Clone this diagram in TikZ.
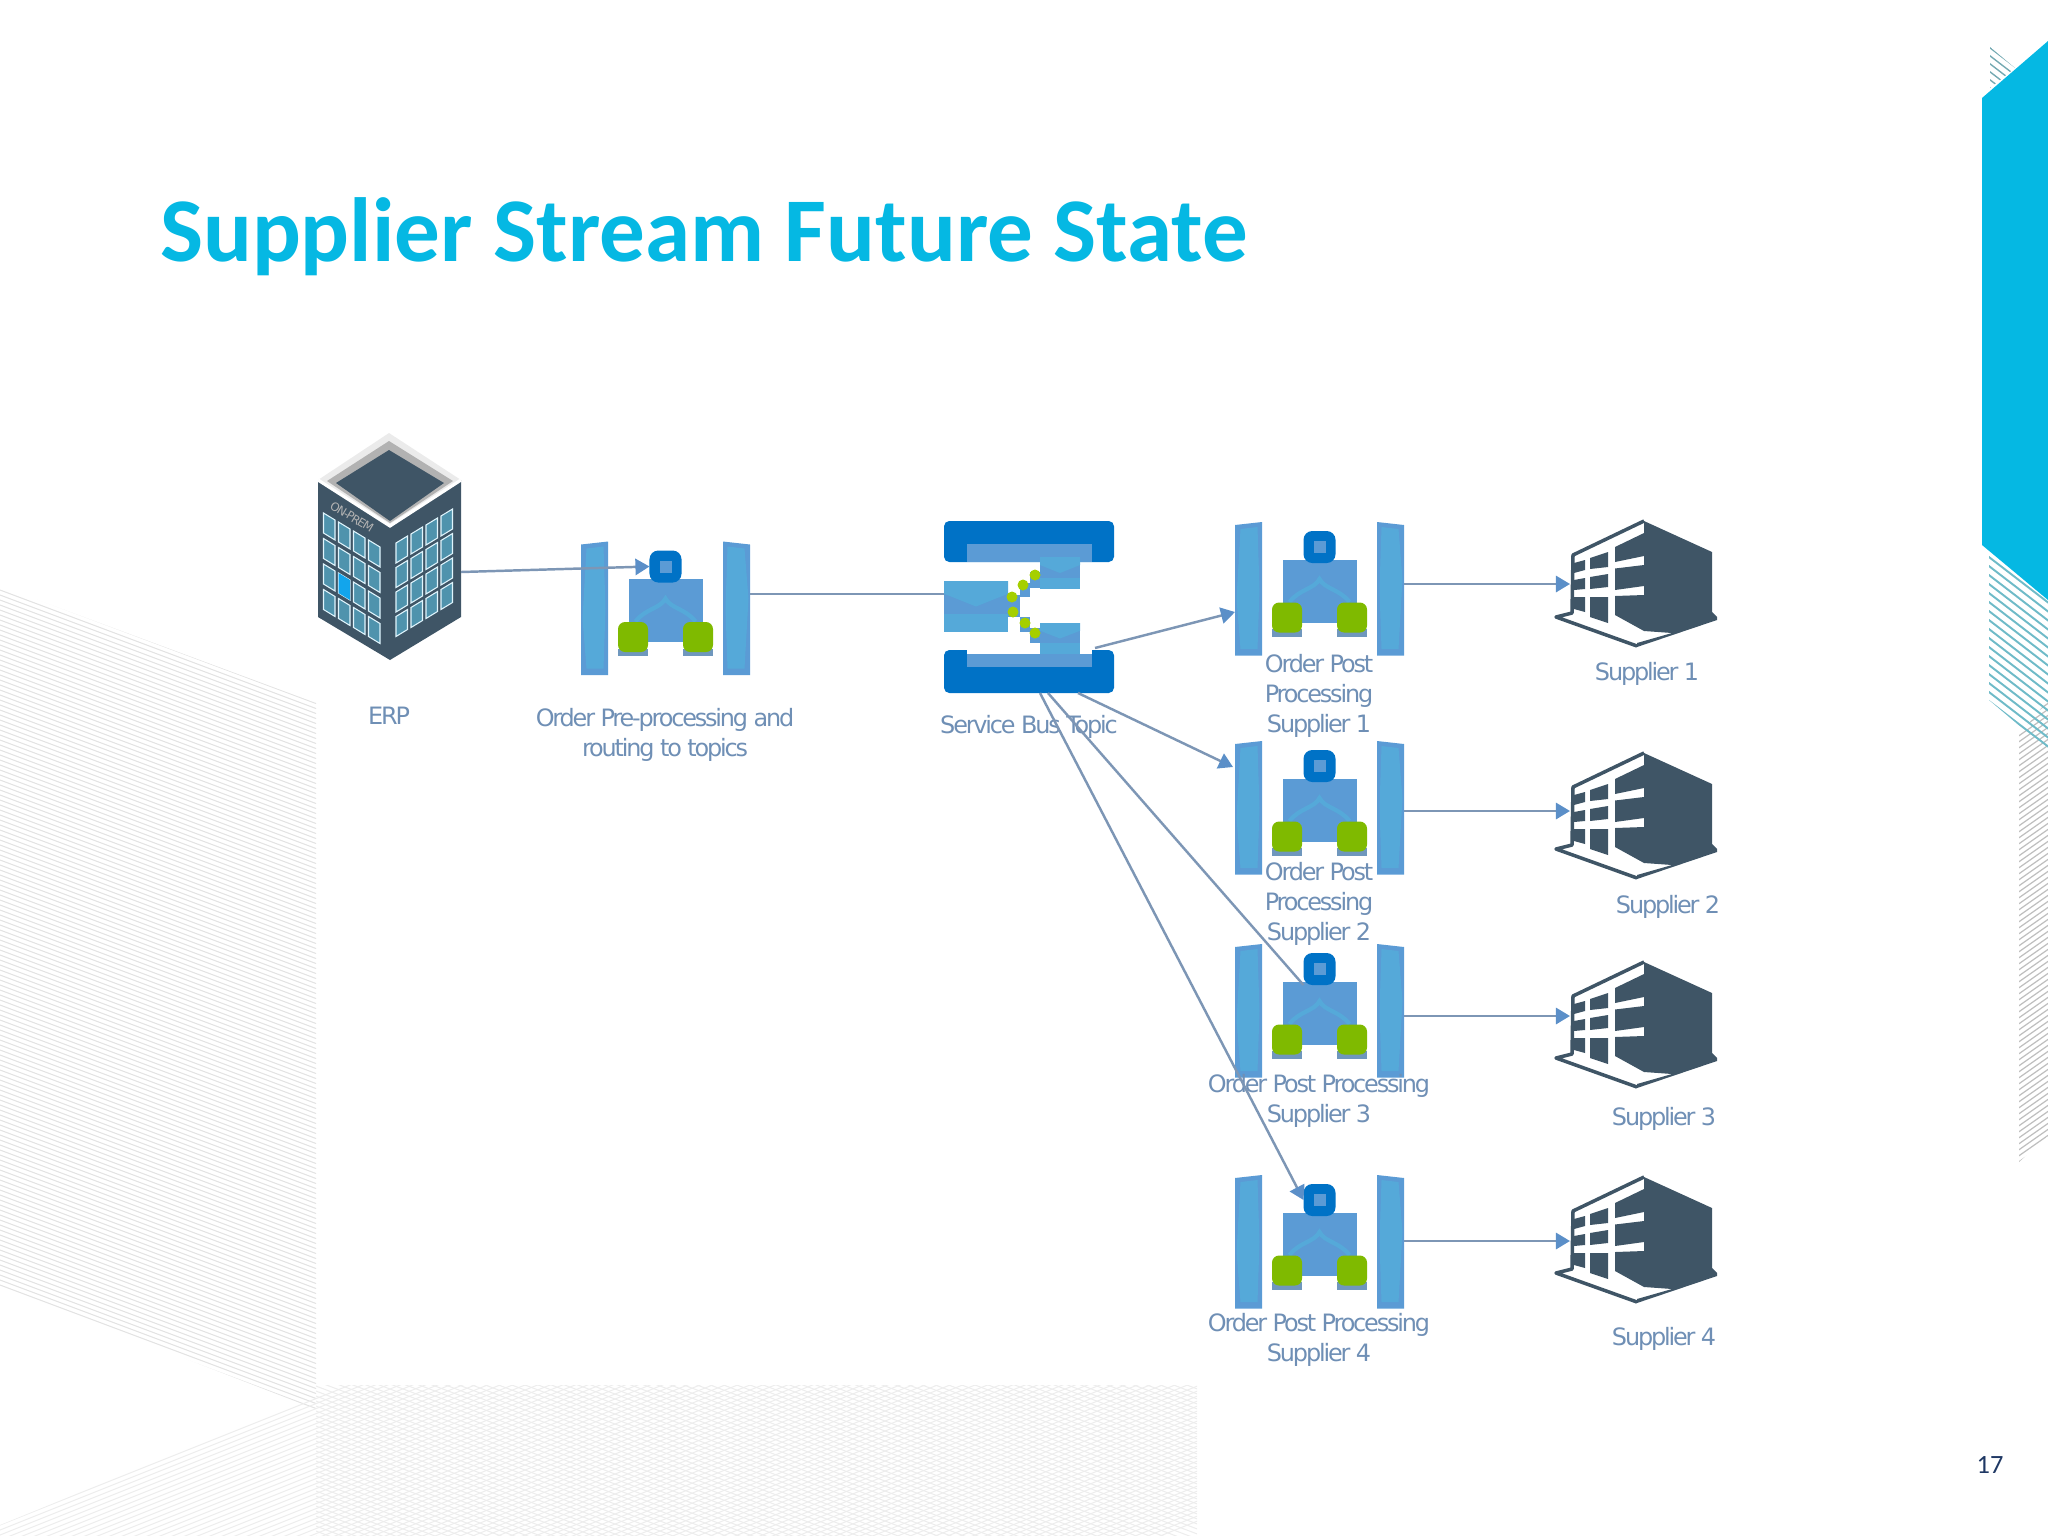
\documentclass[tikz,border=0pt]{standalone}
\usepackage{fontspec}
\setmainfont{Carlito}
\newfontfamily\labelfont[LetterSpace=-9]{DejaVu Sans}
\usetikzlibrary{arrows.meta}
\definecolor{brand}{HTML}{05B8E3}
\definecolor{slate}{HTML}{3F5566}
\definecolor{azure}{HTML}{0072C6}
\definecolor{midblue}{HTML}{5B9BD5}
\definecolor{paleblue}{HTML}{55A9D9}
\definecolor{leaf}{HTML}{7FBA00}
\definecolor{seam}{HTML}{6F97BD}
\definecolor{pane}{HTML}{4F93AD}
\definecolor{panelit}{HTML}{12A5EC}
\definecolor{inktext}{HTML}{6F8FB5}
\definecolor{flowline}{HTML}{7D96B5}
\definecolor{flowtip}{HTML}{5B8FC8}
\definecolor{tealhatch}{HTML}{6FBBC8}
\definecolor{navy}{HTML}{1F3864}
\begin{document}
\begin{tikzpicture}[
    x=0.01cm, y=-0.01cm,
    port/.style={inner sep=0pt, outer sep=0pt},
    hatchgrey/.style={draw=black!11, line width=0.3pt},
    hatchpale/.style={draw=black!7, line width=0.3pt},
    caption/.style={font=\labelfont\fontsize{6.8}{8.54}\selectfont, text=inktext, align=center},
    flow/.style={draw=flowline, line width=0.7pt, -{Triangle[length=4pt, width=4.6pt, color=flowtip]}},
    plainflow/.style={draw=flowline, line width=0.7pt},
    appicon/.pic={
        \fill[midblue] (-84.5,-64) -- (-57.5,-67) -- (-57.5,66.5) -- (-84.5,66.5) -- cycle;
        \fill[midblue] (57.5,-67) -- (84.5,-64) -- (84.5,66.5) -- (57.5,66.5) -- cycle;
        \fill[paleblue] (-79,-60) -- (-62,-62) -- (-60,0) -- (-62,60) -- (-79,60) -- (-83,10) -- cycle;
        \fill[paleblue] (62,-62) -- (79,-60) -- (83,-10) -- (79,60) -- (62,60) -- (60,0) -- cycle;
        \fill[midblue] (-37,-29.5) rectangle (37,33.5);
        \draw[paleblue, line width=1.2pt] (-30,13) .. controls (-20,0) and (-5,0) .. (0,-10) .. controls (5,0) and (20,0) .. (30,13);
        \fill[seam] (-47.5,40) rectangle (-17.5,47.5);
        \fill[seam] (17.5,40) rectangle (47.5,47.5);
        \fill[leaf, rounded corners=2pt] (-47.5,13.5) rectangle (-17.5,43.5);
        \fill[leaf, rounded corners=2pt] (17.5,13.5) rectangle (47.5,43.5);
        \node[port, fill=azure, rounded corners=2.5pt, minimum size=0.32cm] (-top) at (0,-42) {};
        \fill[midblue] (-6,-48) rectangle (6,-36);
        \node[port, minimum width=0.27cm, minimum height=1.33cm] (-left) at (-71,0) {};
        \node[port, minimum width=0.27cm, minimum height=1.33cm] (-right) at (71,0) {};
    },
    topicicon/.pic={
        \fill[azure, rounded corners=1.5pt] (-85,-86) rectangle (85,-45);
        \fill[midblue] (-62,-63) rectangle (63,-45);
        \fill[azure, rounded corners=1.5pt] (-85,43) rectangle (85,86);
        \fill[white] (-62,43) rectangle (63,47);
        \fill[midblue] (-62,47) rectangle (63,60);
        \fill[midblue] (-21,-12) rectangle (-9,10);
        \fill[midblue] (-9,-24) rectangle (1,-10);
        \fill[midblue] (1,-35) rectangle (11,-19);
        \fill[midblue] (-9,10) rectangle (1,25);
        \fill[midblue] (1,21) rectangle (11,36);
        \foreach \l/\t/\r/\b in {-85/-26/-21/25, 11/-50/51/-18, 11/16/51/47} {
            \fill[midblue] (\l,\t) rectangle (\r,\b);
            \fill[paleblue] (\l,\t) -- (\r,\t) -- (\r,{\t+(\b-\t)*0.25}) -- ({(\l+\r)/2},{\t+(\b-\t)*0.5}) -- (\l,{\t+(\b-\t)*0.25}) -- cycle;
            \fill[paleblue] (\l,{\t+(\b-\t)*0.65}) rectangle (\r,\b);
        }
        \foreach \u/\v in {-17/-10, -6/-22, 6/-32, -16/5, -4/16, 6/26}
            \fill[leaf!70!yellow] (\u,\v) circle (5.5);
        \node[port, minimum width=0.64cm, minimum height=0.51cm] (-env) at (-53,-0.5) {};
    },
    officeicon/.pic={
        \fill[black!8] (-1,-93) -- (-72,-46) -- (0,0) -- (71,-46) -- cycle;
        \fill[black!30] (-1,-85) -- (-63,-45) -- (0,-3) -- (63,-45) -- cycle;
        \fill[slate] (-1,-76) -- (-54,-43) -- (0,-5) -- (54,-43) -- cycle;
        \fill[slate] (-72,-46) -- (0,0) -- (71,-46) -- (71,91) -- (0,134) -- (-72,91) -- cycle;
        \draw[white, line width=0.9pt] (-72,-46) -- (0,0) -- (71,-46);
        \foreach \i in {0,...,3}
            \foreach \j in {0,...,3} {
                \pgfmathsetmacro{\xa}{-66.5+\i*15}
                \pgfmathsetmacro{\ya}{-13+\i*9+\j*25.5}
                \fill[draw=cyan!12, line width=0.3pt, fill=pane] (\xa,\ya) -- ({\xa+11.5},{\ya+7}) -- ({\xa+11.5},{\ya+27}) -- (\xa,{\ya+20}) -- cycle;
                \pgfmathsetmacro{\xb}{6+\i*15}
                \pgfmathsetmacro{\yb}{17-\i*9+\j*24.5}
                \fill[draw=cyan!12, line width=0.3pt, fill=pane] (\xb,\yb) -- ({\xb+11.5},{\yb-7}) -- ({\xb+11.5},{\yb+13}) -- (\xb,{\yb+20}) -- cycle;
            }
        \fill[panelit] (-51.5,47) -- (-40,54) -- (-40,74) -- (-51.5,67) -- cycle;
        \node[port, rotate=-31, text=black!30, font=\labelfont\fontsize{3.3}{4}\selectfont] (-tag) at (-38,-9) {ON-PREM};
        \node[port, minimum width=1.43cm, minimum height=1.8cm] (-body) at (-0.5,46) {};
    },
    storeicon/.pic={
        \fill[slate] (0,0) -- (68,31) -- (68,91) -- (73,96) -- (73,99) -- (-7,126) -- (-7,122) -- (28,112) -- (0,110) -- cycle;
        \draw[slate, line width=1pt, line join=round] (0,0) -- (-71,34) -- (-72,92) -- (-88,96) -- (-7,125);
        \foreach \a/\b/\c/\d/\e/\f/\g/\h in {
            -29/26/0/12/0/35/-29/41, -29/47.5/0/44/0/65/-29/69, -29/75/0/74/0/110/-29/94,
            -54/37/-36/31/-36/46/-54/48, -54/56/-36/53/-36/66/-54/68, -54/76/-36/76/-36/102/-54/96,
            -70/42/-59/39/-59/49/-70/52, -70/59/-59/57/-59/68/-70/69, -70/76/-59/76/-59/91/-70/88}
            \fill[slate] (\a,\b) -- (\c,\d) -- (\e,\f) -- (\g,\h) -- cycle;
    }
]
\useasboundingbox (0,0) rectangle (2048,1536);

\begin{scope}
    \clip (0,586) -- (316,703) -- (316,1409) -- (300,1403) -- (0,1287) -- cycle;
    \foreach \k in {440,445,...,1300}
        \draw[hatchgrey] (0,\k) -- (320,{\k+120});
\end{scope}
\begin{scope}
    \clip (0,1525) -- (344,1385) -- (1197,1385) -- (1197,1536) -- (0,1536) -- cycle;
    \foreach \k in {1385,1390,...,2000}
        \draw[hatchpale] (0,\k) -- (1200,{\k-480});
\end{scope}
\begin{scope}
    \clip (316,1385) rectangle (1197,1536);
    \foreach \k in {1000,1005,...,1540}
        \draw[hatchpale] (300,\k) -- (1200,{\k+340});
\end{scope}
\begin{scope}
    \clip (2019,735) -- (2048,700) -- (2048,1136) -- (2019,1162) -- cycle;
    \foreach \k in {700,706,...,1200}
        \draw[draw=black!25, line width=0.35pt] (2010,\k) -- (2050,{\k-28});
\end{scope}
\begin{scope}
    \clip (1989,551) -- (2048,600) -- (2048,750) -- (1989,700) -- cycle;
    \foreach \k in {500,509,...,710}
        \draw[draw=tealhatch, line width=0.55pt] (1985,\k) -- (2050,{\k+50});
\end{scope}
\begin{scope}
    \clip (1990,47) -- (2015,68) -- (1990,88) -- cycle;
    \foreach \k in {20,28,...,90}
        \draw[draw=tealhatch!70!gray, line width=0.4pt] (1985,\k) -- (2050,{\k+50});
\end{scope}
\fill[brand] (1982,98) -- (2048,41) -- (2048,600) -- (1982,545) -- cycle;

\node[port, text=brand, font=\bfseries\fontsize{25.9}{30}\selectfont] (title) at (704,237) {Supplier Stream Future State};
\node[port, text=navy, font=\fontsize{7.5}{9}\selectfont] (pageno) at (1990,1465) {17};

\pic (erp) at (390,526) {officeicon};
\pic (pre) at (665.5,608.5) {appicon};
\pic (sbt) at (1029,607) {topicicon};
\pic (app1) at (1319.5,589) {appicon};
\pic (app2) at (1319.5,808) {appicon};
\pic (app3) at (1319.5,1011) {appicon};
\pic (app4) at (1319.5,1242) {appicon};
\pic (sup1) at (1644,521) {storeicon};
\pic (sup2) at (1644,753) {storeicon};
\pic (sup3) at (1644,962) {storeicon};
\pic (sup4) at (1644,1177) {storeicon};

\node[caption] (erplabel) at (389,716) {ERP};
\node[caption] (prelabel) at (665,735) {Order Pre-processing and\\routing to topics};
\node[caption] (sbtlabel) at (1029,727) {Service Bus Topic};
\node[caption] (app1label) at (1319,696) {Order Post\\Processing\\Supplier 1};
\node[caption] (app2label) at (1319,904) {Order Post\\Processing\\Supplier 2};
\node[caption] (app3label) at (1319,1101) {Order Post Processing\\Supplier 3};
\node[caption] (app4label) at (1319,1340) {Order Post Processing\\Supplier 4};
\node[caption] (sup1label) at (1647,674) {Supplier 1};
\node[caption] (sup2label) at (1668,907) {Supplier 2};
\node[caption] (sup3label) at (1664,1119) {Supplier 3};
\node[caption] (sup4label) at (1664,1339) {Supplier 4};

\coordinate (sbtin) at (944,594);
\coordinate (sbtout1) at (1095,648);
\coordinate (sbtout2) at (1078,693);
\coordinate (sbtout3) at (1048,693);
\coordinate (sbtout4) at (1040,693);
\coordinate (app1in) at (1235,612);
\coordinate (app2in) at (1233,767);
\coordinate (sup1in) at (1570,584);
\coordinate (sup2in) at (1570,811);
\coordinate (sup3in) at (1570,1016);
\coordinate (sup4in) at (1570,1241);

\draw[flow] (erp-body.east) -- (pre-top.west);
\draw[plainflow] (pre-right.east |- sbtin) -- (sbtin);
\draw[flow] (sbtout1) -- (app1in);
\draw[flow] (sbtout2) -- (app2in);
\draw[plainflow] (sbtout3) -- (app3-top.south west);
\draw[flow] (sbtout4) -- (app4-top.west);
\draw[flow] (app1-right.east |- sup1in) -- (sup1in);
\draw[flow] (app2-right.east |- sup2in) -- (sup2in);
\draw[flow] (app3-right.east |- sup3in) -- (sup3in);
\draw[flow] (app4-right.east |- sup4in) -- (sup4in);

\end{tikzpicture}
\end{document}
